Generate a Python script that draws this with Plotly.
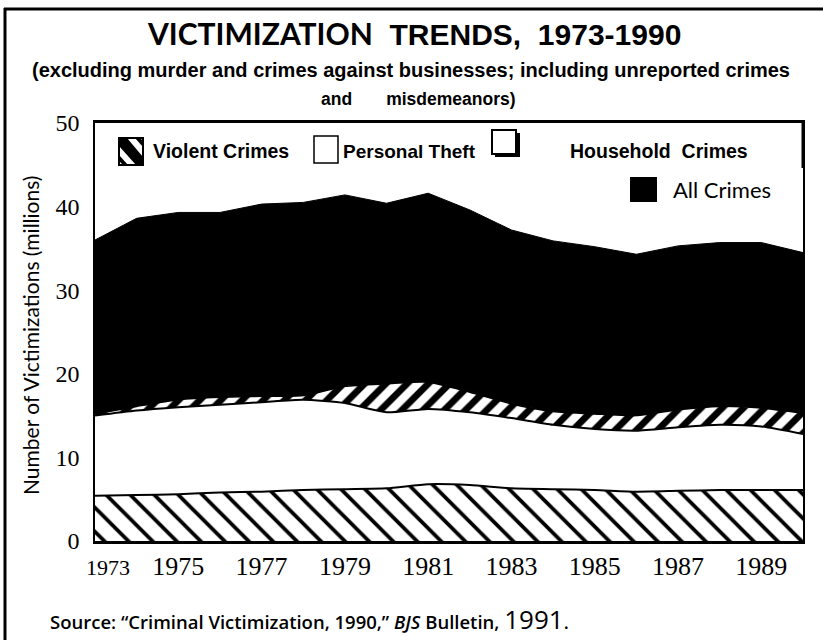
import plotly.graph_objects as go

# ---------------- data (millions) ----------------
years = [1973, 1974, 1975, 1976, 1977, 1978, 1979, 1980, 1981,
         1982, 1983, 1984, 1985, 1986, 1987, 1988, 1989, 1990]
# cumulative boundary of each layer as drawn
violent_crimes = [5.4, 5.5, 5.6, 5.8, 5.9, 6.1, 6.2, 6.3, 6.8,
                  6.7, 6.3, 6.2, 6.1, 5.9, 6.0, 6.1, 6.1, 6.1]
personal_theft = [15.0, 15.6, 16.0, 16.3, 16.6, 16.9, 16.5, 15.4, 15.8,
                  15.4, 14.7, 13.9, 13.4, 13.2, 13.6, 13.9, 13.7, 12.8]
household_crimes = [15.2, 16.1, 16.9, 17.2, 17.3, 17.4, 18.5, 18.8, 19.0,
                    17.8, 16.4, 15.5, 15.2, 15.0, 15.7, 16.1, 15.9, 15.3]
all_crimes = [36.0, 38.6, 39.3, 39.3, 40.3, 40.5, 41.4, 40.4, 41.6,
              39.6, 37.2, 35.9, 35.2, 34.3, 35.3, 35.7, 35.7, 34.5]

x_tick_vals = [1973, 1975, 1977, 1979, 1981, 1983, 1985, 1987, 1989]
x_tick_text = ["\u00a0\u00a0\u00a0\u00a0<span style='font-size:22px'>1973</span>",
               "1975", "1977", "1979", "1981", "1983", "1985", "1987", "1989"]
y_tick_vals = [0, 10, 20, 30, 40, 50]
y_tick_text = ["0", "10", "20", "30", "40", "50"]

W, H = 823, 640
L, R, T, B = 95, 20, 123, 99
PW, PH = W - L - R, H - T - B


def PX(px):
    return (px - L) / PW


def PY(py):
    return (H - B - py) / PH


fig = go.Figure()

fig.add_trace(go.Scatter(
    x=years, y=violent_crimes, name="Violent Crimes", mode="lines",
    line=dict(color="black", width=2, shape="spline", smoothing=0.6),
    fill="tozeroy",
    fillpattern=dict(shape="\\", fgcolor="black", bgcolor="white",
                     size=17, solidity=0.22, fillmode="replace"),
    showlegend=False, hoverinfo="skip"))

fig.add_trace(go.Scatter(
    x=years, y=personal_theft, name="Personal Theft", mode="lines",
    line=dict(color="black", width=2, shape="spline", smoothing=0.6),
    fill="tonexty", fillcolor="white",
    showlegend=False, hoverinfo="skip"))

fig.add_trace(go.Scatter(
    x=years, y=household_crimes, name="Household Crimes", mode="lines",
    line=dict(color="black", width=1.5, shape="spline", smoothing=0.6),
    fill="tonexty",
    fillpattern=dict(shape="/", fgcolor="black", bgcolor="white",
                     size=15, solidity=0.45, fillmode="replace"),
    showlegend=False, hoverinfo="skip"))

fig.add_trace(go.Scatter(
    x=years, y=all_crimes, name="All Crimes", mode="lines",
    line=dict(color="black", width=1),
    fill="tonexty", fillcolor="black",
    showlegend=False, hoverinfo="skip"))

SERIF = "Liberation Serif, Times New Roman, serif"
NARROW = "Liberation Sans Narrow, Arial Narrow, Liberation Sans, Arial, sans-serif"
SANS = "Liberation Sans, Arial, sans-serif"
HUMAN = "Lato, Open Sans, sans-serif"
OPEN = "Open Sans, Lato, sans-serif"

fig.update_xaxes(
    range=[1973, 1990], showgrid=False, zeroline=False,
    showline=True, linecolor="black", linewidth=3, mirror=True,
    tickmode="array", tickvals=x_tick_vals, ticktext=x_tick_text,
    ticks="", ticklabelstandoff=0,
    tickfont=dict(family=SERIF, size=26, color="black"))

fig.update_yaxes(
    range=[0, 50], showgrid=False, zeroline=False,
    showline=True, linecolor="black", linewidth=1.5, mirror=True,
    tickmode="array", tickvals=y_tick_vals, ticktext=y_tick_text,
    ticks="", ticklabelstandoff=9,
    tickfont=dict(family=SERIF, size=24, color="black"))

shapes = []
# outer frame (top and left visible)
shapes.append(dict(type="line", xref="paper", yref="paper",
                   x0=PX(4), x1=PX(823), y0=PY(9), y1=PY(9),
                   line=dict(color="black", width=3)))
shapes.append(dict(type="line", xref="paper", yref="paper",
                   x0=PX(5), x1=PX(5), y0=PY(8), y1=PY(640),
                   line=dict(color="black", width=3)))
# thick right segment at legend area
shapes.append(dict(type="line", xref="paper", yref="paper",
                   x0=PX(803), x1=PX(803), y0=PY(123), y1=PY(168),
                   line=dict(color="black", width=3)))

# legend swatches
shapes.append(dict(type="rect", xref="paper", yref="paper",
                   x0=PX(119), x1=PX(143), y0=PY(165), y1=PY(138),
                   fillcolor="white", line=dict(color="black", width=2)))


def poly(pts):
    return "M " + " L ".join(f"{PX(a):.5f},{PY(b):.5f}" for a, b in pts) + " Z"


shapes.append(dict(type="path", xref="paper", yref="paper",
                   path=poly([(119, 138), (127, 138), (143, 157), (143, 165),
                              (136, 165), (119, 146)]),
                   fillcolor="black", line=dict(width=0)))
shapes.append(dict(type="path", xref="paper", yref="paper",
                   path=poly([(119, 155), (119, 161), (123, 165), (128, 165)]),
                   fillcolor="black", line=dict(width=0)))
shapes.append(dict(type="path", xref="paper", yref="paper",
                   path=poly([(135, 138), (140, 138), (143, 141), (143, 147)]),
                   fillcolor="black", line=dict(width=0)))
shapes.append(dict(type="rect", xref="paper", yref="paper",
                   x0=PX(314), x1=PX(338), y0=PY(163), y1=PY(136),
                   fillcolor="white", line=dict(color="black", width=1.5)))
shapes.append(dict(type="rect", xref="paper", yref="paper",
                   x0=PX(495), x1=PX(520), y0=PY(157), y1=PY(133),
                   fillcolor="black", line=dict(width=0)))
shapes.append(dict(type="rect", xref="paper", yref="paper",
                   x0=PX(492), x1=PX(516), y0=PY(154), y1=PY(130),
                   fillcolor="white", line=dict(color="black", width=2)))
shapes.append(dict(type="rect", xref="paper", yref="paper",
                   x0=PX(630), x1=PX(657), y0=PY(202), y1=PY(177),
                   fillcolor="black", line=dict(width=0)))

legend_labels = ["Violent Crimes", "Personal Theft", "Household\u00a0 Crimes", "All Crimes"]
legend_pos = [(151, 151), (341, 151), (568, 151), (671, 189)]
legend_font_weights = ["bold", "bold", "bold", "normal"]
legend_fonts = [SANS, SANS, SANS, HUMAN]
legend_sizes = [19.5, 19, 19.5, 22]

annotations = []
for (lx, ly), txt, wt, fam, sz in zip(legend_pos, legend_labels, legend_font_weights,
                                       legend_fonts, legend_sizes):
    annotations.append(dict(xref="paper", yref="paper", x=PX(lx), y=PY(ly),
                            xanchor="left", yanchor="middle", showarrow=False,
                            text=txt,
                            font=dict(family=fam, size=sz, color="black", weight=wt)))

# axis title
annotations.append(dict(
    xref="paper", yref="paper", x=PX(30), y=PY(336), xanchor="center", yanchor="middle",
    showarrow=False, textangle=-90,
    text="Number of Victimizations (millions)",
    font=dict(family=HUMAN, size=21, color="black")))

# titles
annotations.append(dict(
    xref="paper", yref="paper", x=PX(414), y=PY(33), xanchor="center", yanchor="middle",
    showarrow=False,
    text=("<span style='font-family:Lato'>VICTIMIZATION</span>"
          "\u00a0 TRENDS,\u00a0 1973-1990"),
    font=dict(family=NARROW, size=30, color="black", weight="bold")))
annotations.append(dict(
    xref="paper", yref="paper", x=PX(411), y=PY(70), xanchor="center", yanchor="middle",
    showarrow=False,
    text="(excluding murder and crimes against businesses; including unreported crimes",
    font=dict(family=NARROW, size=20, color="black", weight="bold")))
annotations.append(dict(
    xref="paper", yref="paper", x=PX(418), y=PY(99), xanchor="center", yanchor="middle",
    showarrow=False,
    text="and\u00a0\u00a0\u00a0\u00a0\u00a0\u00a0 misdemeanors)",
    font=dict(family=NARROW, size=17.5, color="black", weight="bold")))
annotations.append(dict(
    xref="paper", yref="paper", x=PX(48), y=PY(619), xanchor="left", yanchor="middle",
    showarrow=False,
    text=("Source: \u201cCriminal Victimization, 1990,\u201d <i>BJS</i> Bulletin, "
          "<span style='font-size:26px;font-weight:normal'>1991</span>."),
    font=dict(family=OPEN, size=18.5, color="black", weight=600)))

fig.update_layout(
    width=W, height=H,
    margin=dict(l=L, r=R, t=T, b=B, pad=0),
    paper_bgcolor="white", plot_bgcolor="white",
    showlegend=False,
    shapes=shapes, annotations=annotations,
)

fig.write_html("out.html", config={"displayModeBar": False},
               post_script="document.body.style.margin='0';")
